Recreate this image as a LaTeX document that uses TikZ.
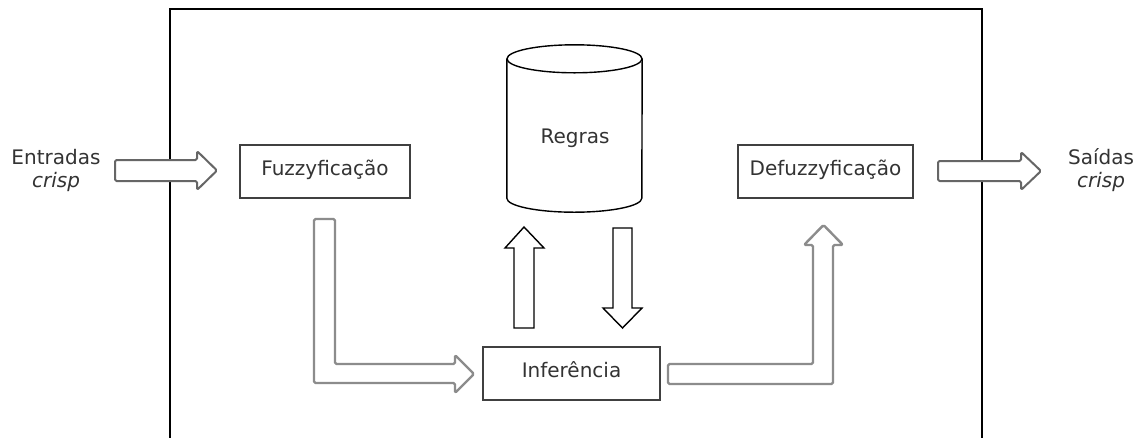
\documentclass[tikz,border=0pt]{standalone}
\usepackage{fontspec}
\setmainfont{DejaVu Sans}
\begin{document}
\begin{tikzpicture}[x=1pt,y=1pt,
  every node/.style={font=\fontsize{20}{24}\selectfont, text=black!80},
  stage/.style={draw=black!75, line width=2pt, minimum height=53, inner sep=0pt,
                text height=0.8em, text depth=0pt},
  iolabel/.style={align=center},
  flowarrow/.style={draw=black!60, line width=2pt, fill=white, rounded corners=1.5pt, line join=round},
  bentarrow/.style={draw=black!45, line width=2.4pt, fill=white, rounded corners=1.5pt, line join=round},
  rulearrow/.style={draw=black, line width=1.4pt, fill=white, line join=miter},
  frame/.style={draw=black, line width=2.2pt}
]
\clip (0,0) rectangle (1145,-437);
\fill[white] (0,0) rectangle (1145,-437);

% system boundary (open at the bottom)
\draw[frame] (170,-450) -- (170,-9) -- (982,-9) -- (982,-450);

% processing stages
\node[stage, minimum width=170] (fuzz)   at (325,-171)   {Fuzzyficação};
\node[stage, minimum width=175] (defuzz) at (825.5,-171.5) {Defuzzyficação};
\node[stage, minimum width=177] (infer)  at (571.5,-373.5) {Inferência};

% rule base drawn as a cylinder
\node[minimum width=135, minimum height=139, inner sep=0pt] (regras) at (574.5,-128.5) {};
\draw[black, line width=1.4pt, fill=white]
  (regras.north west) -- (regras.south west)
  arc[start angle=180, end angle=360, x radius=67.5pt, y radius=14pt]
  -- (regras.north east);
\draw[black, line width=1.4pt] (regras.north) ellipse [x radius=67.5pt, y radius=14pt];
\node[anchor=base] (regraslabel) at (575,-143) {Regras};

% crisp inputs and outputs
\node[iolabel] (entradas) at (56,-170) {Entradas\\[-1pt]\textit{crisp}};
\node[iolabel] (saidas)   at (1101,-170) {Saídas\\[-1pt]\textit{crisp}};

% input arrow
\draw[flowarrow] (115,-160) -- (197,-160) -- (197,-151) -- (217,-170.5)
  -- (197,-190) -- (197,-181) -- (115,-181) -- cycle;
% output arrow
\draw[flowarrow] (938,-161) -- (1021,-161) -- (1021,-152) -- (1041,-171)
  -- (1021,-190) -- (1021,-181) -- (938,-181) -- cycle;

% fuzzyfication -> inference
\draw[bentarrow] (314,-219) -- (335,-219) -- (335,-364) -- (455,-364) -- (455,-355)
  -- (474,-374) -- (455,-393) -- (455,-383) -- (314,-383) -- cycle;
% inference -> defuzzyfication
\draw[bentarrow] (668,-364) -- (813,-364) -- (813,-245) -- (804,-245) -- (823.5,-225)
  -- (843,-245) -- (833,-245) -- (833,-384) -- (668,-384) -- cycle;

% inference <-> rule base
\draw[rulearrow] (514,-328) -- (514,-248) -- (505,-248) -- (524,-227) -- (544,-248)
  -- (534,-248) -- (534,-328) -- cycle;
\draw[rulearrow] (613,-228) -- (632,-228) -- (632,-308) -- (642,-308) -- (622.5,-328)
  -- (603,-308) -- (613,-308) -- cycle;
\end{tikzpicture}
\end{document}
